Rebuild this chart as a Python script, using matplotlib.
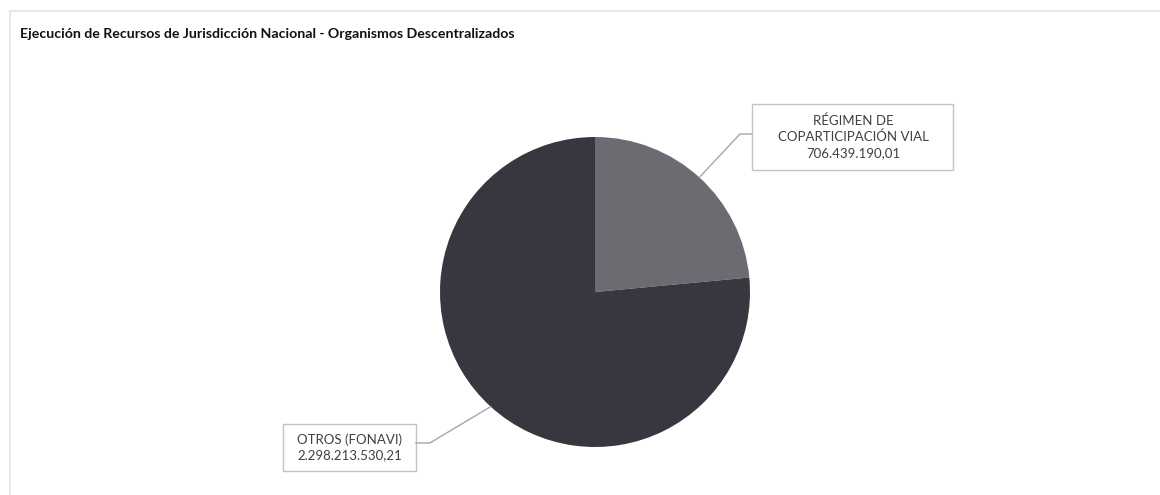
import matplotlib
matplotlib.use('Agg')
import matplotlib.pyplot as plt
import numpy as np

# datos
categorias = ['RÉGIMEN DE\nCOPARTICIPACIÓN VIAL', 'OTROS (FONAVI)']
valores = [706439190.01, 2298213530.21]
etiquetas_valor = ['706.439.190,01', '2.298.213.530,21']
colores = ['#6b6b71', '#37383f']

plt.rcParams['font.family'] = ['Lato', 'DejaVu Sans']

fig = plt.figure(figsize=(11.6, 4.95), dpi=100)
fig.patch.set_facecolor('white')

# marco tenue del grafico
fig.add_artist(plt.Line2D([10 / 1160, 10 / 1160], [0, 1 - 11 / 495], color='#e4e4e4', lw=1.2))
fig.add_artist(plt.Line2D([10 / 1160, 1], [1 - 11 / 495, 1 - 11 / 495], color='#e4e4e4', lw=1.2))

fig.text(20 / 1160, 1 - 34 / 495,
         'Ejecución de Recursos de Jurisdicción Nacional - Organismos Descentralizados',
         fontsize=10.2, fontweight='bold', color='#111111', va='center', ha='left')

ax = fig.add_axes([(595 - 155) / 1160, (495 - 292 - 155) / 495, 310 / 1160, 310 / 495])
wedges, _ = ax.pie(valores, colors=colores, startangle=90, counterclock=False, radius=1)
ax.set_xlim(-1, 1)
ax.set_ylim(-1, 1)
ax.set_aspect('equal')
ax.axis('off')

# posiciones de las etiquetas (cajas) en unidades del radio
cajas = [
    dict(x0=1.013, x1=2.310, y0=0.787, y1=1.215, elbow=(0.935, 1.019), texto_x=1.665),
    dict(x0=-2.013, x1=-1.155, y0=-1.155, y1=-0.852, elbow=(-1.065, -0.974), texto_x=-1.584),
]

for w, cat, val, c in zip(wedges, categorias, etiquetas_valor, cajas):
    ang = np.deg2rad((w.theta1 + w.theta2) / 2)
    px, py = np.cos(ang), np.sin(ang)
    ex, ey = c['elbow']
    bx = c['x0'] if px > 0 else c['x1']
    ax.plot([px, ex, bx], [py, ey, ey], color='#a6a6a6', lw=1.0, clip_on=False)
    rect = plt.Rectangle((c['x0'], c['y0']), c['x1'] - c['x0'], c['y1'] - c['y0'],
                         facecolor='white', edgecolor='#c4c4c4', lw=1.0, clip_on=False)
    ax.add_patch(rect)
    ax.text(c['texto_x'], (c['y0'] + c['y1']) / 2, cat + '\n' + val,
            ha='center', va='center', fontsize=9.5, color='#404040',
            linespacing=1.35, clip_on=False)

fig.savefig('out.png', dpi=100)
